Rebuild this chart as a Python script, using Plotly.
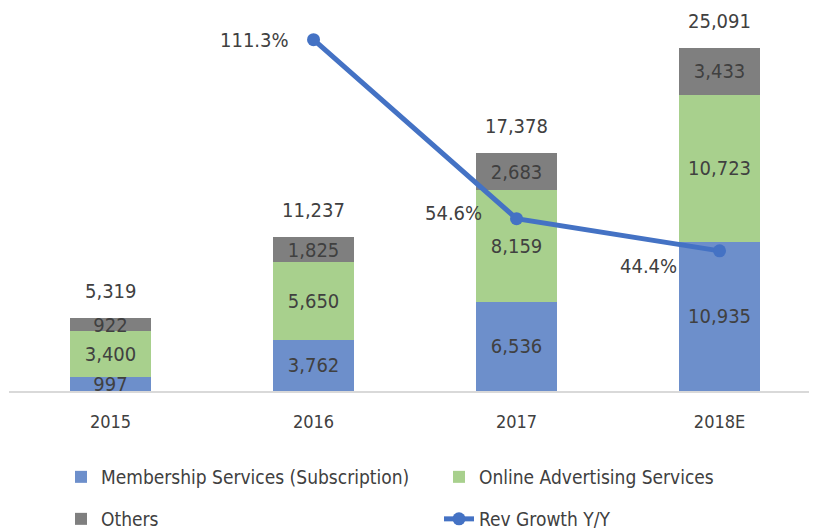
import plotly.graph_objects as go

years = ["2015", "2016", "2017", "2018E"]
membership = [997, 3762, 6536, 10935]
advertising = [3400, 5650, 8159, 10723]
others = [922, 1825, 2683, 3433]
growth_years = ["2016", "2017", "2018E"]
growth = [111.3, 54.6, 44.4]

totals = [a + b + c for a, b, c in zip(membership, advertising, others)]

FONT = "DejaVu Sans Condensed, Liberation Sans Narrow, sans-serif"
TXT = "#404040"
W, H = 809, 524  # page has an 8px body margin


def fmt(v):
    return f"{v:,}"


fig = go.Figure()
for name, vals, col in [
    ("Membership Services (Subscription)", membership, "#6d8fcb"),
    ("Online Advertising Services", advertising, "#a8d08d"),
    ("Others", others, "#7f7f7f"),
]:
    fig.add_trace(go.Bar(
        x=years, y=vals, name=name, marker=dict(color=col, line=dict(width=0)),
        text=[fmt(v) for v in vals], textposition="inside", insidetextanchor="middle",
        constraintext="none", textangle=0,
        textfont=dict(family=FONT, size=20, color=TXT),
        legend="legend" if name != "Others" else "legend2",
    ))

fig.add_trace(go.Scatter(
    x=growth_years, y=growth, name="Rev Growth Y/Y", yaxis="y2",
    mode="lines+markers",
    line=dict(color="#4472c4", width=5), marker=dict(color="#4472c4", size=13),
    legend="legend2",
))

annotations = []
for i, t in enumerate(totals):
    annotations.append(dict(x=i, y=t, xref="x", yref="y", text=fmt(t),
                            showarrow=False, yanchor="middle", yshift=27,
                            font=dict(family=FONT, size=20, color=TXT)))
for yr, g, dx, dy in zip(growth_years, growth, [-23, -33, -41], [0, 6, -15]):
    annotations.append(dict(x=years.index(yr), y=g, xref="x", yref="y2", text=f"{g}%",
                            showarrow=False, xanchor="right", yanchor="middle",
                            xshift=dx, yshift=dy,
                            font=dict(family=FONT, size=20, color=TXT)))

legend_common = dict(orientation="h", x=0.0656, xanchor="left",
                     yref="container", yanchor="middle", entrywidth=333,
                     font=dict(family=FONT, size=19, color=TXT),
                     bgcolor="rgba(0,0,0,0)", traceorder="normal")

fig.update_layout(
    width=W, height=H,
    margin=dict(l=1, r=0, t=2, b=141),
    barmode="stack", bargap=0.6,
    plot_bgcolor="white", paper_bgcolor="white",
    font=dict(family=FONT, color=TXT, size=18),
    annotations=annotations,
    xaxis=dict(type="category", range=[-0.5, 3.48], showline=True,
               linecolor="#d9d9d9", linewidth=2, ticks="", showgrid=False,
               tickfont=dict(family=FONT, size=18, color=TXT), ticklabelstandoff=13),
    yaxis=dict(range=[0, 27870], visible=False, showgrid=False),
    yaxis2=dict(range=[0, 120.7], overlaying="y", side="right",
                visible=False, showgrid=False),
    legend=dict(legend_common, y=1 - 469 / H),
    legend2=dict(legend_common, y=1 - 511 / H),
)

fig.write_html("out.html")
